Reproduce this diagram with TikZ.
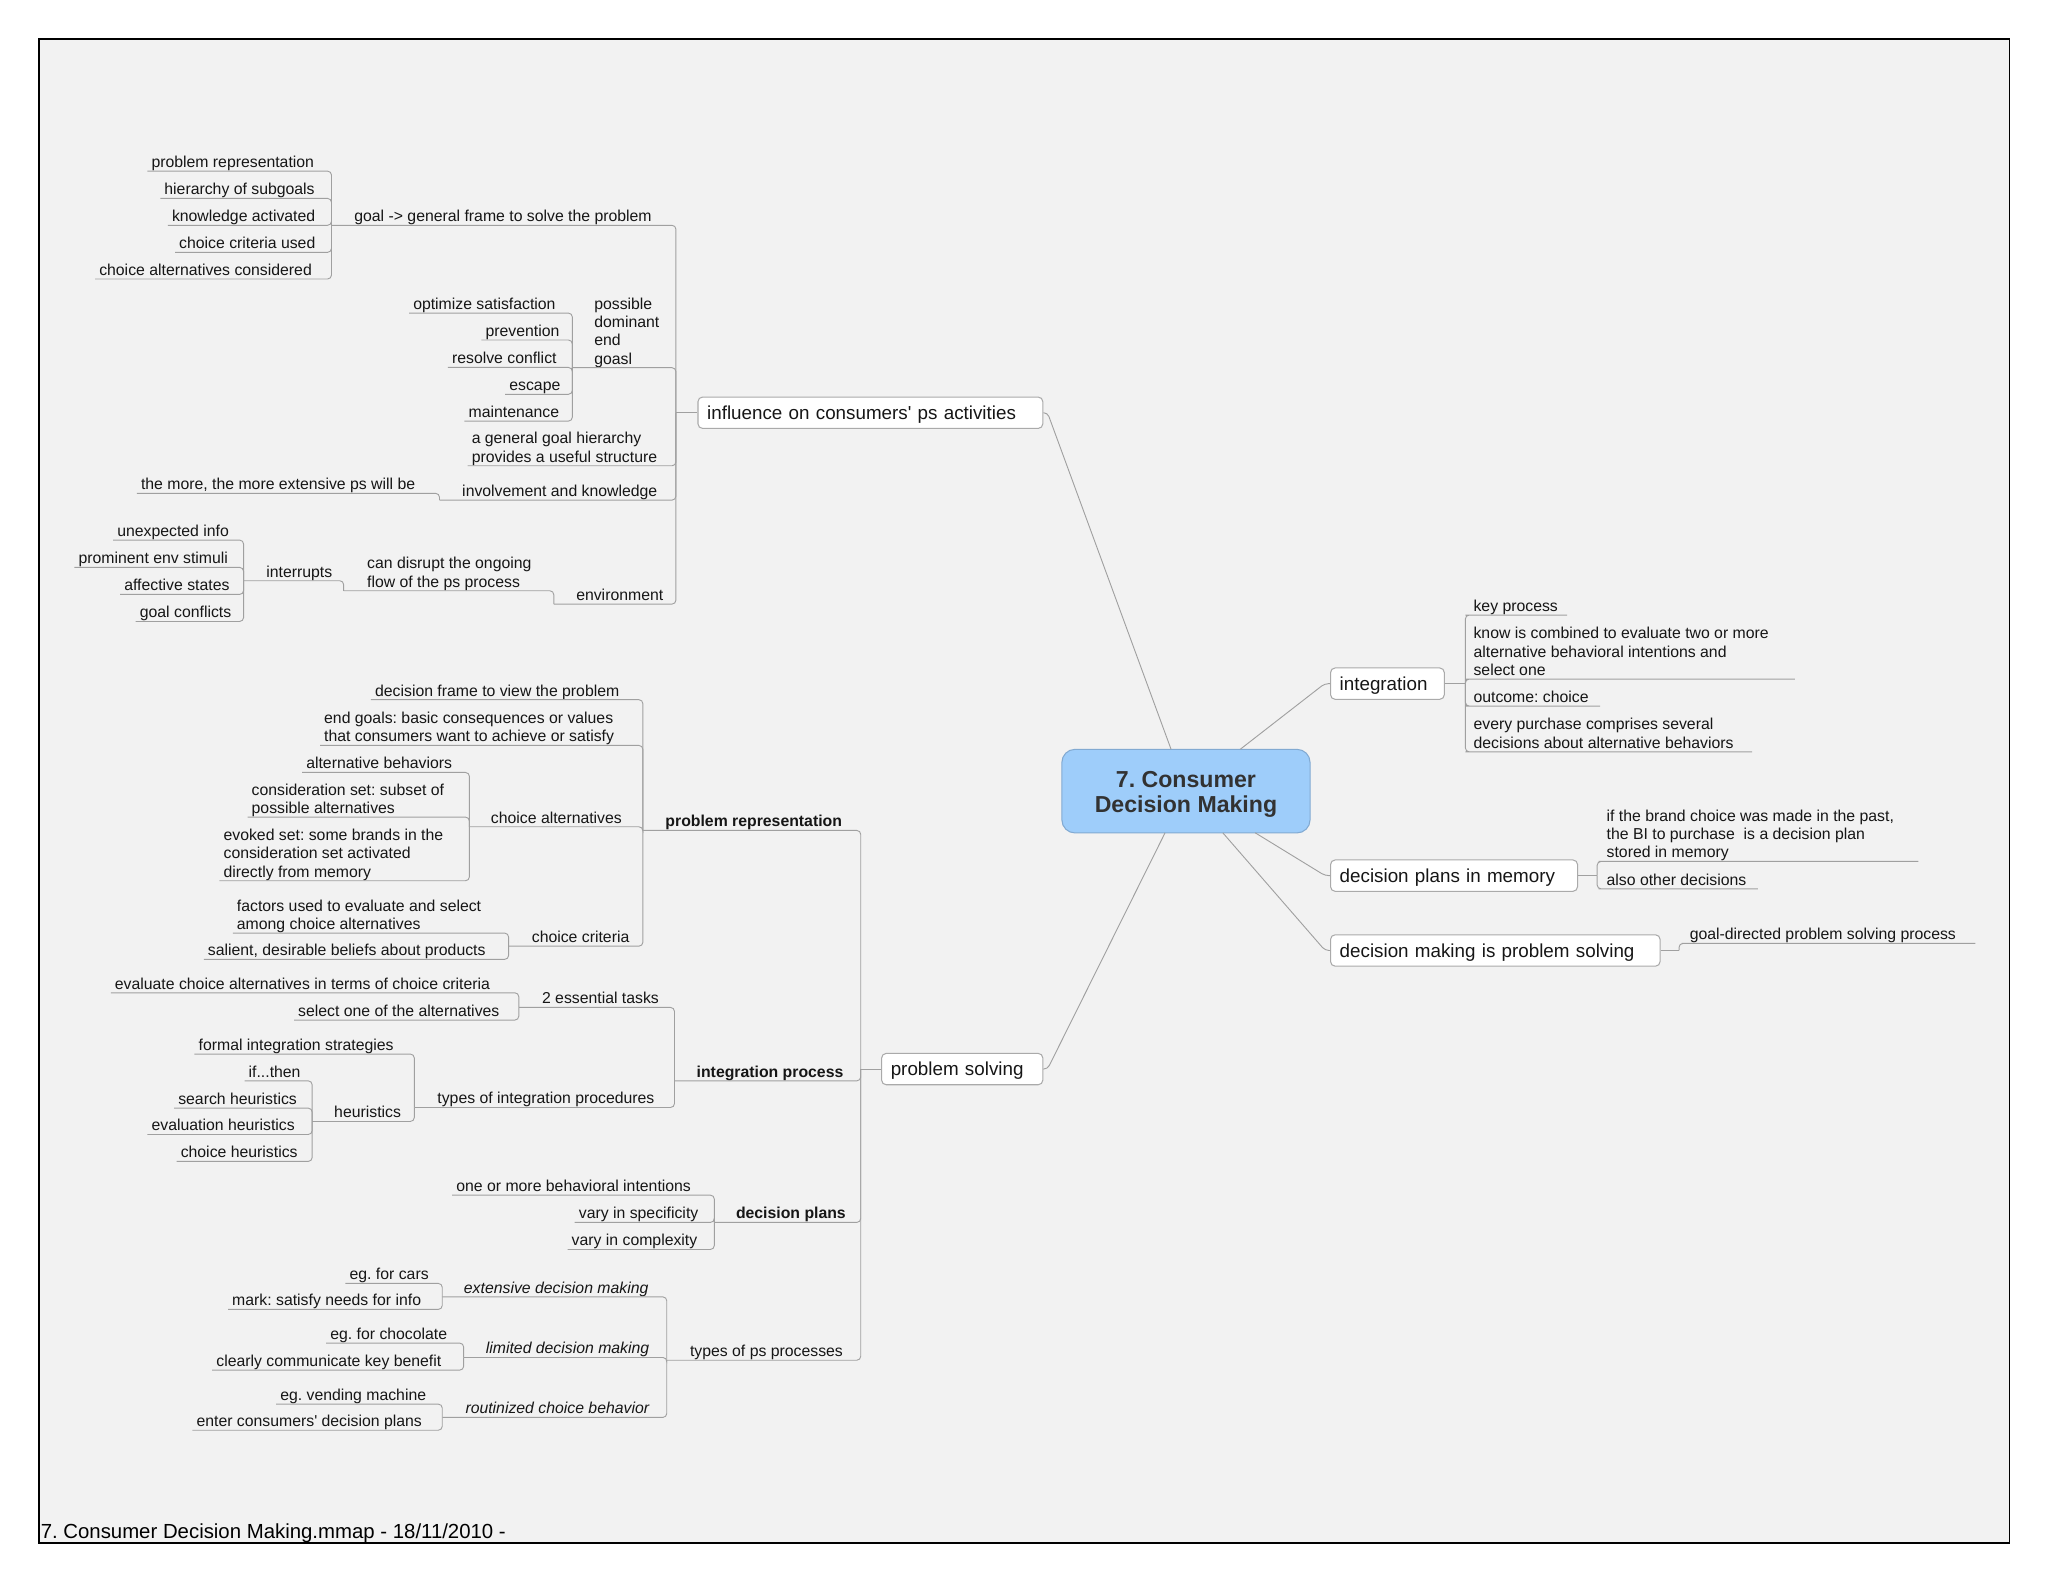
\documentclass[tikz,border=0pt]{standalone}
\usepackage{fontspec}
\setmainfont{Liberation Sans}
\usetikzlibrary{calc}
\definecolor{bgc}{RGB}{242,242,242}
\definecolor{lnc}{RGB}{160,160,160}
\definecolor{boxc}{RGB}{170,170,170}
\definecolor{cfill}{RGB}{158,205,250}
\definecolor{cdraw}{RGB}{130,170,210}
\definecolor{ctext}{RGB}{50,50,50}
\definecolor{txt}{RGB}{22,22,22}
\newcommand\ustr{\rule[-2.6pt]{0pt}{2.6pt}}
\newcommand\aq{\textquotesingle}
\frenchspacing
\begin{document}
\frenchspacing
\begin{tikzpicture}[x=1pt,y=-1pt,
  tp/.style={anchor=south west, inner xsep=3pt, inner ysep=0pt, align=left,
    font=\fontsize{12.1}{14}\selectfont\frenchspacing, text=txt, execute at end node=\ustr},
  tpb/.style={tp, font=\fontsize{12.1}{14}\selectfont\frenchspacing\bfseries},
  tpi/.style={tp, font=\fontsize{12.1}{14}\selectfont\frenchspacing\itshape},
  ln/.style={draw=lnc, line width=0.7pt, rounded corners=3pt},
  bx/.style={draw=boxc, fill=white, line width=0.8pt, rounded corners=3.5pt,
    anchor=west, inner xsep=7pt, inner ysep=0pt, align=left, minimum height=24pt,
    text height=13.5pt, text depth=3pt,
    font=\fontsize{14.4}{16}\selectfont\frenchspacing, text=txt},
]
\useasboundingbox (0,0) rectangle (1568,1211);
\fill[white] (0,0) rectangle (1568,1211);
\fill[bgc] (30,29.5) rectangle (1538.5,1181.5);
\draw[black, line width=1.5pt] (30,29.5) rectangle (1538.5,1181.5);

% ---------- centre ----------
\node[draw=cdraw, fill=cfill, rounded corners=10pt, minimum width=190pt, minimum height=64pt,
  line width=0.8pt] (ctr) at (908,605.7) {};
\node[align=center, font=\fontsize{17.7}{19.5}\selectfont\bfseries\frenchspacing, text=ctext, inner sep=0pt]
  (ctrt) at (908,608.2) {7. Consumer\\Decision Making};
\coordinate (ctl) at (896.6,573.7);
\coordinate (ctrr) at (949.5,573.7);
\coordinate (cb1) at (892,637.6);
\coordinate (cb2) at (936.2,637.6);
\coordinate (cb3) at (961,637.6);

% ---------- influence branch ----------
\node[bx, text width=250pt] (infl) at (534,316) {influence on consumers\aq{} ps activities};
\coordinate (infl-s) at (517.5,316);
\coordinate (infl-c) at (802,316);

\node[tp] (goal) at (268.1,172.5) {goal -> general frame to solve the problem};
\coordinate (goal-s) at (253.8,172.5);
\node[tp] (pr1) at (112.8,131) {problem representation};
\node[tp] (hs) at (122.7,151.9) {hierarchy of subgoals};
\node[tp] (ka) at (128.5,172.5) {knowledge activated};
\node[tp] (ccu) at (134,193.2) {choice criteria used};
\node[tp] (cac) at (72.8,213.6) {choice alternatives considered};

\node[tp] (pdeg) at (451.8,281.5) {possible\\dominant\\end\\goasl};
\coordinate (pdeg-s) at (438.2,281.5);
\node[tp] (os) at (313.2,239.7) {optimize satisfaction};
\node[tp] (prev) at (368.6,260.3) {prevention};
\node[tp] (rc) at (342.9,281.3) {resolve conflict};
\node[tp] (esc) at (386.8,301.9) {escape};
\node[tp] (mnt) at (355.6,322.4) {maintenance};

\node[tp] (ggh) at (358,356.6) {a general goal hierarchy\\provides a useful structure};
\node[tp] (ik) at (350.7,382.9) {involvement and knowledge};
\coordinate (ik-s) at (336.5,382.9);
\node[tp] (tm) at (104.8,377.7) {the more, the more extensive ps will be};

\node[tp] (env) at (438,462.5) {environment};
\coordinate (env-s) at (424,462.5);
\node[tp] (cd) at (277.9,452.3) {can disrupt the ongoing\\flow of the ps process};
\coordinate (cd-s) at (263.1,452.3);
\node[tp] (intr) at (200.7,444.6) {interrupts};
\coordinate (intr-s) at (186.5,444.6);
\node[tp] (ui) at (86.6,413.5) {unexpected info};
\node[tp] (pes) at (57,434.4) {prominent env stimuli};
\node[tp] (as) at (92,455.1) {affective states};
\node[tp] (gc) at (103.9,475.8) {goal conflicts};

\draw[ln] (goal-s) -- (goal.south east) -| (infl-s);
\foreach \n in {pr1,hs,ka,ccu,cac} \draw[ln] (\n.south west) -- (\n.south east) -| (goal-s);
\draw[ln] (pdeg-s) -- (pdeg.south east) -| (infl-s);
\foreach \n in {os,prev,rc,esc,mnt} \draw[ln] (\n.south west) -- (\n.south east) -| (pdeg-s);
\draw[ln] (ggh.south west) -- (ggh.south east) -| (infl-s);
\draw[ln] (ik-s) -- (ik.south east) -| (infl-s);
\draw[ln] (tm.south west) -- (tm.south east) -| (ik-s);
\draw[ln] (env-s) -- (env.south east) -| (infl-s);
\draw[ln] (cd-s) -- (cd.south east) -| (env-s);
\draw[ln] (intr-s) -- (intr.south east) -| (cd-s);
\foreach \n in {ui,pes,as,gc} \draw[ln] (\n.south west) -- (\n.south east) -| (intr-s);
\draw[ln] (infl-s) -- (infl.west);

% ---------- problem solving branch ----------
\node[bx, text width=109.4pt] (ps) at (674.6,818.5) {problem solving};
\coordinate (ps-s) at (659,818.5);
\coordinate (ps-c) at (802,818.5);

\node[tpb] (prep) at (506.3,635.8) {problem representation};
\coordinate (prep-s) at (492.2,635.8);
\node[tp] (dfv) at (284,535.7) {decision frame to view the problem};
\node[tp] (eg) at (245,570.7) {end goals: basic consequences or values\\that consumers want to achieve or satisfy};
\node[tp] (ca) at (372.7,633) {choice alternatives};
\coordinate (ca-s) at (359.4,633);
\node[tp] (ab) at (231.3,591.4) {alternative behaviors};
\node[tp] (cs) at (189.5,625.6) {consideration set: subset of\\possible alternatives};
\node[tp] (es) at (168,674.3) {evoked set: some brands in the\\consideration set activated\\directly from memory};
\node[tp] (cc) at (404,724.4) {choice criteria};
\coordinate (cc-s) at (389.4,724.4);
\node[tp] (fu) at (178.2,714.4) {factors used to evaluate and select\\among choice alternatives};
\node[tp] (sd) at (156,734.5) {salient, desirable beliefs about products};

\node[tpb] (ip) at (530.2,827.5) {integration process};
\coordinate (ip-s) at (516.4,827.5);
\node[tp] (et) at (411.8,771.3) {2 essential tasks};
\coordinate (et-s) at (397.2,771.3);
\node[tp] (ec) at (84.8,760.1) {evaluate choice alternatives in terms of choice criteria};
\node[tp] (so) at (225.1,781) {select one of the alternatives};
\node[tp] (ti) at (331.7,847.9) {types of integration procedures};
\coordinate (ti-s) at (317.2,847.9);
\node[tp] (fi) at (148.9,807) {formal integration strategies};
\node[tp] (heu) at (252.7,858.6) {heuristics};
\coordinate (heu-s) at (239,858.6);
\node[tp] (ift) at (187.2,827.5) {if...then};
\node[tp] (sh) at (133.3,848.4) {search heuristics};
\node[tp] (eh) at (112.9,868.6) {evaluation heuristics};
\node[tp] (ch) at (135.2,889.2) {choice heuristics};

\node[tpb] (dp) at (560.3,935.9) {decision plans};
\coordinate (dp-s) at (546.9,935.9);
\node[tp] (om) at (346.2,915) {one or more behavioral intentions};
\node[tp] (vs) at (440,935.9) {vary in specificity};
\node[tp] (vc) at (434.5,956.6) {vary in complexity};

\node[tp] (tps) at (525.1,1041.4) {types of ps processes};
\coordinate (tps-s) at (510.5,1041.4);
\node[tpi] (edm) at (352,992.9) {extensive decision making};
\coordinate (edm-s) at (338.6,992.9);
\node[tp] (efc) at (264.5,982.6) {eg. for cars};
\node[tp] (msn) at (174.6,1002.5) {mark: satisfy needs for info};
\node[tpi] (ldm) at (368.8,1039.3) {limited decision making};
\coordinate (ldm-s) at (355,1039.3);
\node[tp] (efch) at (249.7,1028.3) {eg. for chocolate};
\node[tp] (cck) at (162.5,1049) {clearly communicate key benefit};
\node[tpi] (rcb) at (353.2,1085.2) {routinized choice behavior};
\coordinate (rcb-s) at (338.6,1085.2);
\node[tp] (evm) at (211.4,1075) {eg. vending machine};
\node[tp] (ecd) at (147.3,1095) {enter consumers\aq{} decision plans};

\foreach \n in {prep,ip,dp,tps} \draw[ln] (\n-s) -- (\n.south east) -| (ps-s);
\foreach \n in {dfv,eg} \draw[ln] (\n.south west) -- (\n.south east) -| (prep-s);
\foreach \n in {ca,cc} \draw[ln] (\n-s) -- (\n.south east) -| (prep-s);
\foreach \n in {ab,cs,es} \draw[ln] (\n.south west) -- (\n.south east) -| (ca-s);
\foreach \n in {fu,sd} \draw[ln] (\n.south west) -- (\n.south east) -| (cc-s);
\foreach \n in {et,ti} \draw[ln] (\n-s) -- (\n.south east) -| (ip-s);
\foreach \n in {ec,so} \draw[ln] (\n.south west) -- (\n.south east) -| (et-s);
\draw[ln] (fi.south west) -- (fi.south east) -| (ti-s);
\draw[ln] (heu-s) -- (heu.south east) -| (ti-s);
\foreach \n in {ift,sh,eh,ch} \draw[ln] (\n.south west) -- (\n.south east) -| (heu-s);
\foreach \n in {om,vs,vc} \draw[ln] (\n.south west) -- (\n.south east) -| (dp-s);
\foreach \n in {edm,ldm,rcb} \draw[ln] (\n-s) -- (\n.south east) -| (tps-s);
\foreach \n in {efc,msn} \draw[ln] (\n.south west) -- (\n.south east) -| (edm-s);
\foreach \n in {efch,cck} \draw[ln] (\n.south west) -- (\n.south east) -| (ldm-s);
\foreach \n in {evm,ecd} \draw[ln] (\n.south west) -- (\n.south east) -| (rcb-s);
\draw[ln] (ps-s) -- (ps.west);

% ---------- right side ----------
\node[bx, text width=73.1pt] (integ) at (1018.3,523.4) {integration};
\coordinate (integ-s) at (1121.9,523.4);
\coordinate (integ-c) at (1014.2,523.4);
\node[tp] (kp) at (1125,470.9) {key process};
\coordinate (kp-e) at (1199.9,470.9);
\node[tp] (kc) at (1125,519.9) {know is combined to evaluate two or more\\alternative behavioral intentions and\\select one};
\coordinate (kc-e) at (1374.1,519.9);
\node[tp] (oc) at (1125,540.6) {outcome: choice};
\coordinate (oc-e) at (1225.1,540.6);
\node[tp] (ep) at (1125,575.6) {every purchase comprises several\\decisions about alternative behaviors};
\coordinate (ep-e) at (1341.4,575.6);
\foreach \n in {kp,kc,oc,ep} \draw[ln] (\n-e) -- (\n.south west) -| (integ-s);
\draw[ln] (integ.east) -- (integ-s);

\node[bx, text width=175.1pt] (dpm) at (1018.3,670.4) {decision plans in memory};
\coordinate (dpm-s) at (1222.8,670.4);
\coordinate (dpm-c) at (1014.5,670.4);
\node[tp] (ib) at (1226.9,659.5) {if the brand choice was made in the past,\\the BI to purchase\ \ is a decision plan\\stored in memory};
\coordinate (ib-e) at (1468.8,659.5);
\node[tp] (ao) at (1226.9,680.5) {also other decisions};
\coordinate (ao-e) at (1345.8,680.5);
\foreach \n in {ib,ao} \draw[ln] (\n-e) -- (\n.south west) -| (dpm-s);
\draw[ln] (dpm.east) -- (dpm-s);

\node[bx, text width=238.3pt] (dmps) at (1018.3,727.7) {decision making is problem solving};
\coordinate (dmps-s) at (1285.5,727.7);
\coordinate (dmps-c) at (1014.5,727.7);
\node[tp] (gd) at (1290.5,722.3) {goal-directed problem solving process};
\coordinate (gd-e) at (1512.3,722.3);
\draw[ln] (gd-e) -- (gd.south west) -| (dmps-s);
\draw[ln] (dmps.east) -- (dmps-s);

% ---------- main connectors ----------
\draw[ln] (ctl) -- (infl-c) -- (infl.east);
\draw[ln] (cb1) -- (ps-c) -- (ps.east);
\draw[ln] (ctrr) -- (integ-c) -- (integ.west);
\draw[ln] (cb3) -- (dpm-c) -- (dpm.west);
\draw[ln] (cb2) -- (dmps-c) -- (dmps.west);

% ---------- footer ----------
\node[anchor=base west, inner sep=0pt, font=\fontsize{15.6}{18}\selectfont\frenchspacing, text=black]
  (foot) at (31,1178) {7. Consumer Decision Making.mmap - 18/11/2010 -};
\end{tikzpicture}
\end{document}
